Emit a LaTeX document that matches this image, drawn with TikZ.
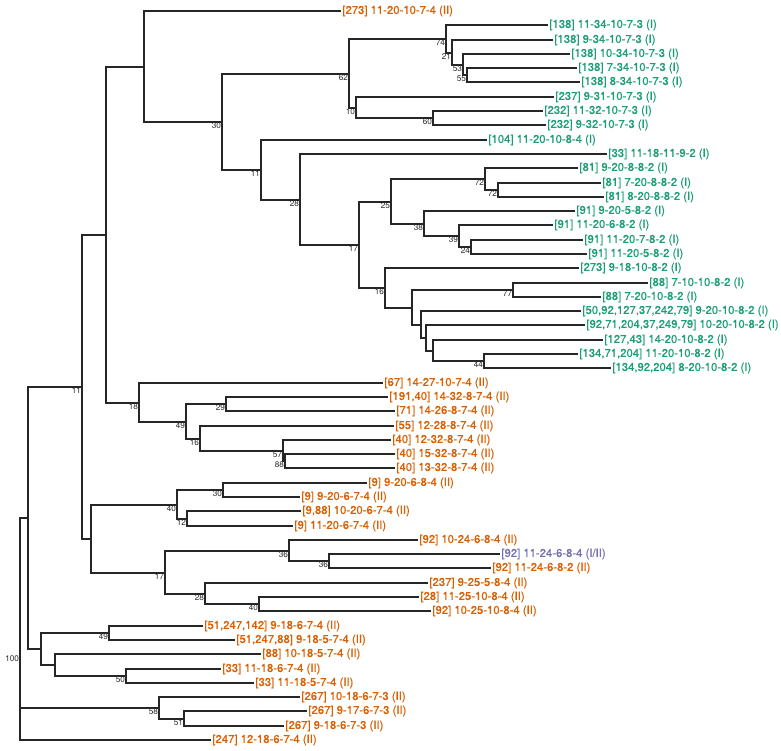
\documentclass[tikz,border=0pt]{standalone}
\usepackage{fontspec}
\setmainfont{TeX Gyre Heros}
\newfontface\labfont{TeX Gyre Heros}[FakeBold=0.7]
\usetikzlibrary{calc}
\definecolor{cI}{HTML}{1B9E77}
\definecolor{cII}{HTML}{D95F02}
\definecolor{cIII}{HTML}{7570B3}
\definecolor{bsgray}{HTML}{2A2A2A}
\tikzset{
  edge/.style={draw=black!85,line width=2pt},
  lab/.style={anchor=west,inner xsep=1.2pt,inner ysep=0pt,font=\labfont\fontsize{11.3}{13}\selectfont},
  bs/.style={anchor=north east,inner sep=0.8pt,text=bsgray,font=\fontsize{8.2}{9.5}\selectfont}
}
\newcommand\leaf[5]{%
  \coordinate (#1) at (#2,{round(11+(#3-1)*14.2941)});
  \node[lab,text=#4] (#1-t) at (#1) {#5};}
\newcommand\inode[5]{%
  \path let \p1=(#3), \p2=(#4) in coordinate (#1) at (#2pt,{round((\y1+\y2)/2)});
  \draw[edge] (#3) -| (#1) |- (#4);
  \if\relax\detokenize{#5}\relax\else\node[bs] (#1-b) at (#1) {#5};\fi}
\begin{document}
\begin{tikzpicture}[x=1pt,y=-1pt]
\useasboundingbox (0,0) rectangle (781,750);
% leaves
\leaf{L1}{341}{1}{cII}{[273] 11-20-10-7-4 (II)}
\leaf{L2}{548}{2}{cI}{[138] 11-34-10-7-3 (I)}
\leaf{L3}{553}{3}{cI}{[138] 9-34-10-7-3 (I)}
\leaf{L4}{570}{4}{cI}{[138] 10-34-10-7-3 (I)}
\leaf{L5}{577}{5}{cI}{[138] 7-34-10-7-3 (I)}
\leaf{L6}{580}{6}{cI}{[138] 8-34-10-7-3 (I)}
\leaf{L7}{554}{7}{cI}{[237] 9-31-10-7-3 (I)}
\leaf{L8}{543}{8}{cI}{[232] 11-32-10-7-3 (I)}
\leaf{L9}{546}{9}{cI}{[232] 9-32-10-7-3 (I)}
\leaf{L10}{487}{10}{cI}{[104] 11-20-10-8-4 (I)}
\leaf{L11}{607}{11}{cI}{[33] 11-18-11-9-2 (I)}
\leaf{L12}{578}{12}{cI}{[81] 9-20-8-8-2 (I)}
\leaf{L13}{601}{13}{cI}{[81] 7-20-8-8-2 (I)}
\leaf{L14}{604}{14}{cI}{[81] 8-20-8-8-2 (I)}
\leaf{L15}{575}{15}{cI}{[91] 9-20-5-8-2 (I)}
\leaf{L16}{553}{16}{cI}{[91] 11-20-6-8-2 (I)}
\leaf{L17}{583}{17}{cI}{[91] 11-20-7-8-2 (I)}
\leaf{L18}{587}{18}{cI}{[91] 11-20-5-8-2 (I)}
\leaf{L19}{579}{19}{cI}{[273] 9-18-10-8-2 (I)}
\leaf{L20}{648}{20}{cI}{[88] 7-10-10-8-2 (I)}
\leaf{L21}{601}{21}{cI}{[88] 7-20-10-8-2 (I)}
\leaf{L22}{581}{22}{cI}{[50,92,127,37,242,79] 9-20-10-8-2 (I)}
\leaf{L23}{585}{23}{cI}{[92,71,204,37,249,79] 10-20-10-8-2 (I)}
\leaf{L24}{603}{24}{cI}{[127,43] 14-20-10-8-2 (I)}
\leaf{L25}{578}{25}{cI}{[134,71,204] 11-20-10-8-2 (I)}
\leaf{L26}{611}{26}{cI}{[134,92,204] 8-20-10-8-2 (I)}
\leaf{L27}{383}{27}{cII}{[67] 14-27-10-7-4 (II)}
\leaf{L28}{388}{28}{cII}{[191,40] 14-32-8-7-4 (II)}
\leaf{L29}{395}{29}{cII}{[71] 14-26-8-7-4 (II)}
\leaf{L30}{394}{30}{cII}{[55] 12-28-8-7-4 (II)}
\leaf{L31}{391}{31}{cII}{[40] 12-32-8-7-4 (II)}
\leaf{L32}{395}{32}{cII}{[40] 15-32-8-7-4 (II)}
\leaf{L33}{395}{33}{cII}{[40] 13-32-8-7-4 (II)}
\leaf{L34}{367}{34}{cII}{[9] 9-20-6-8-4 (II)}
\leaf{L35}{300}{35}{cII}{[9] 9-20-6-7-4 (II)}
\leaf{L36}{301}{36}{cII}{[9,88] 10-20-6-7-4 (II)}
\leaf{L37}{293}{37}{cII}{[9] 11-20-6-7-4 (II)}
\leaf{L38}{418}{38}{cII}{[92] 10-24-6-8-4 (II)}
\leaf{L39}{500}{39}{cIII}{[92] 11-24-6-8-4 (I/II)}
\leaf{L40}{491}{40}{cII}{[92] 11-24-6-8-2 (II)}
\leaf{L41}{428}{41}{cII}{[237] 9-25-5-8-4 (II)}
\leaf{L42}{419}{42}{cII}{[28] 11-25-10-8-4 (II)}
\leaf{L43}{431}{43}{cII}{[92] 10-25-10-8-4 (II)}
\leaf{L44}{203}{44}{cII}{[51,247,142] 9-18-6-7-4 (II)}
\leaf{L45}{235}{45}{cII}{[51,247,88] 9-18-5-7-4 (II)}
\leaf{L46}{261}{46}{cII}{[88] 10-18-5-7-4 (II)}
\leaf{L47}{221}{47}{cII}{[33] 11-18-6-7-4 (II)}
\leaf{L48}{254}{48}{cII}{[33] 11-18-5-7-4 (II)}
\leaf{L49}{300}{49}{cII}{[267] 10-18-6-7-3 (II)}
\leaf{L50}{307}{50}{cII}{[267] 9-17-6-7-3 (II)}
\leaf{L51}{284}{51}{cII}{[267] 9-18-6-7-3 (II)}
\leaf{L52}{211}{52}{cII}{[247] 12-18-6-7-4 (II)}
% internal nodes
\inode{a55}{467}{L5}{L6}{55}
\inode{a53}{463}{L4}{a55}{53}
\inode{a21}{452}{L3}{a53}{21}
\inode{a74}{446}{L2}{a21}{74}
\inode{a60}{433}{L8}{L9}{60}
\inode{a10}{356}{L7}{a60}{10}
\inode{a62}{349}{a74}{a10}{62}
\inode{b72b}{498}{L13}{L14}{72}
\inode{b72}{485}{L12}{b72b}{72}
\inode{b24}{471}{L17}{L18}{24}
\inode{b39}{459}{L16}{b24}{39}
\inode{b38}{424}{L15}{b39}{38}
\inode{b25}{391}{b72}{b38}{25}
\inode{c44}{484}{L25}{L26}{44}
\inode{cS}{433}{L24}{c44}{}
\inode{cR}{426}{L23}{cS}{}
\inode{cQ}{421}{L22}{cR}{}
\inode{c77}{513}{L20}{L21}{77}
\inode{cP}{412}{c77}{cQ}{}
\inode{c16}{385}{L19}{cP}{16}
\inode{b17}{359}{b25}{c16}{17}
\inode{b28}{300}{L11}{b17}{28}
\inode{b11}{261}{L10}{b28}{11}
\inode{a30}{222}{a62}{b11}{30}
\inode{t1}{144}{L1}{a30}{}
\inode{d29}{226}{L28}{L29}{29}
\inode{d88}{285}{L32}{L33}{88}
\inode{d57}{283}{L31}{d88}{57}
\inode{d16}{200}{L30}{d57}{16}
\inode{d49}{186}{d29}{d16}{49}
\inode{d18}{139}{L27}{d49}{18}
\inode{t2}{106}{t1}{d18}{}
\inode{e30}{223}{L34}{L35}{30}
\inode{e12}{187}{L36}{L37}{12}
\inode{e40}{177}{e30}{e12}{40}
\inode{f36b}{329}{L39}{L40}{36}
\inode{f36}{289}{L38}{f36b}{36}
\inode{f40}{259}{L42}{L43}{40}
\inode{f28}{205}{L41}{f40}{28}
\inode{f17}{165}{f36}{f28}{17}
\inode{t3}{91}{e40}{f17}{}
\inode{t4}{82}{t2}{t3}{11}
\inode{g49}{109}{L44}{L45}{49}
\inode{g50}{126}{L47}{L48}{50}
\inode{g55}{55}{L46}{g50}{}
\inode{g41}{41}{g49}{g55}{}
\inode{t5}{28}{t4}{g41}{}
\inode{h51}{184}{L50}{L51}{51}
\inode{h58}{159}{L49}{h51}{58}
% root (three children)
\path let \p1=(t5), \p2=(h58), \p3=(L52) in coordinate (root) at (20pt,{round((\y1+\y2+\y3)/3)});
\draw[edge] (t5) -| (root) |- (L52);
\draw[edge] (root) |- (h58);
\node[bs] (root-b) at (root) {100};
\end{tikzpicture}
\end{document}
